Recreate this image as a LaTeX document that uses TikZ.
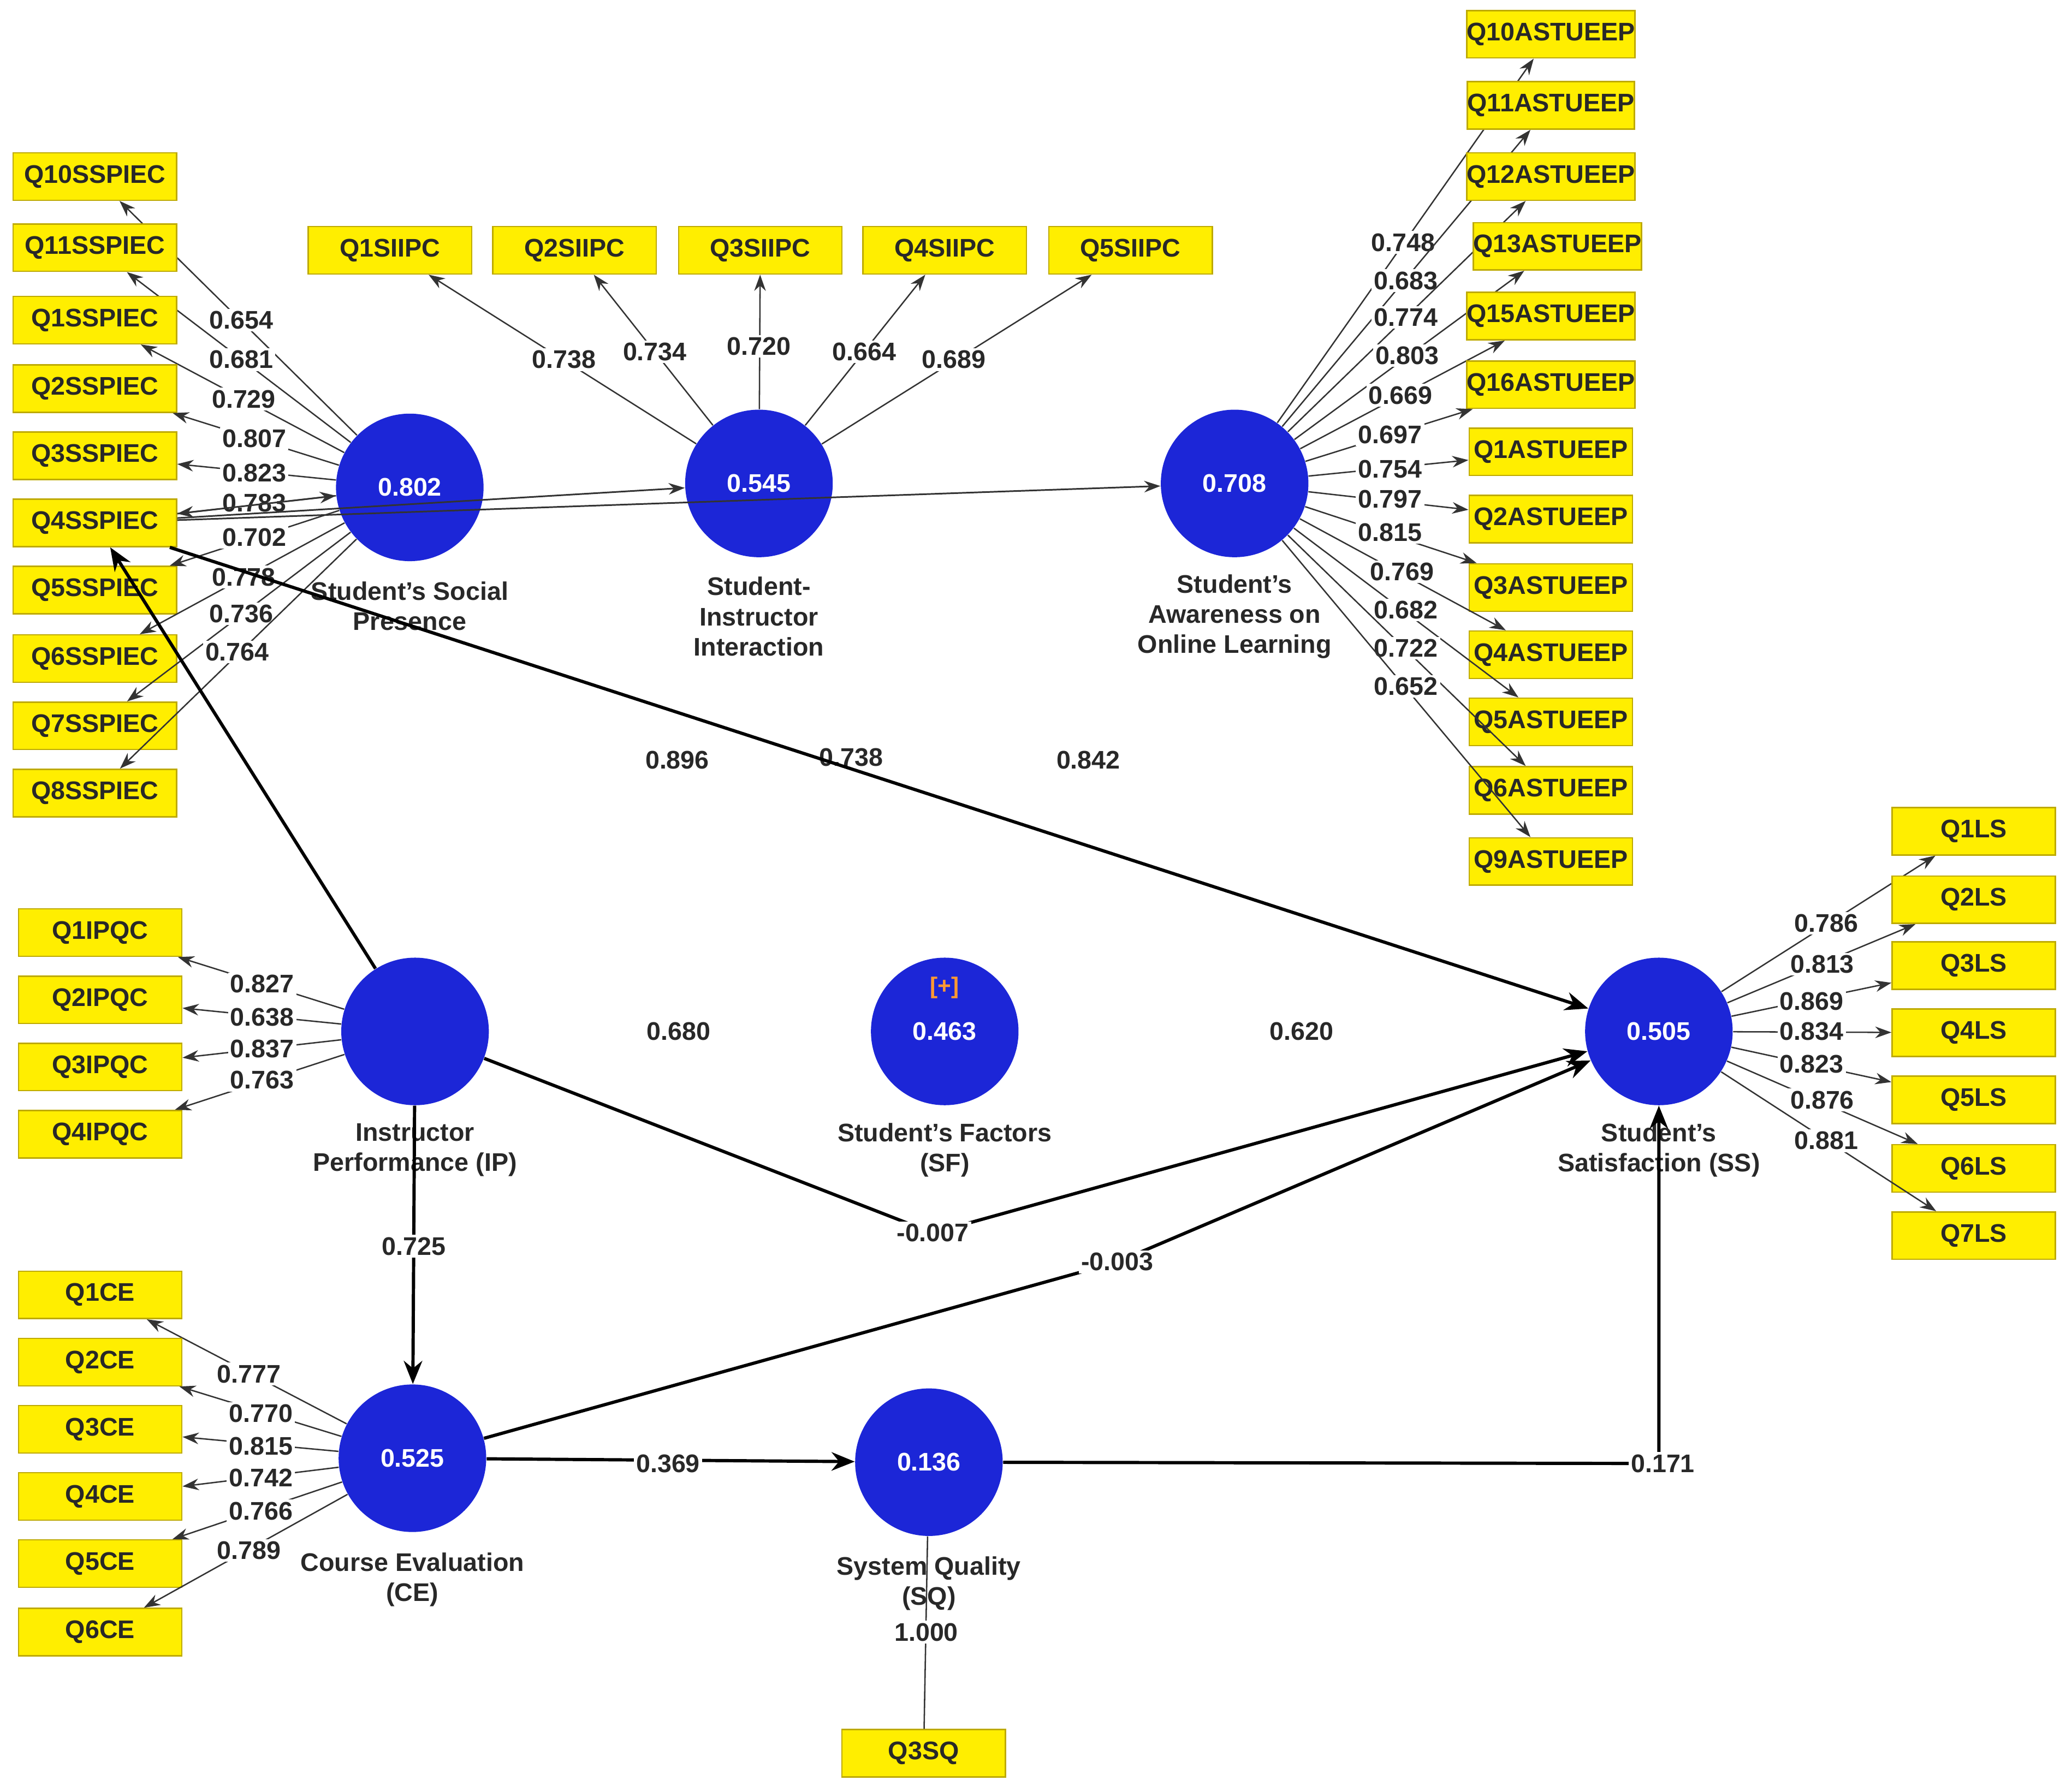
\documentclass[tikz,border=0pt]{standalone}
\usepackage{fontspec}
\setmainfont{Liberation Sans}
\usetikzlibrary{arrows.meta}
\definecolor{lvblue}{RGB}{28,38,215}
\definecolor{boxy}{RGB}{255,238,0}
\definecolor{boxb}{RGB}{190,170,0}
\definecolor{txt}{RGB}{40,40,40}
\begin{document}
\begin{tikzpicture}[x=0.02cm,y=-0.02cm,
  lv/.style={circle,fill=lvblue,minimum size=112*0.02cm,inner sep=0pt,text=white,font=\bfseries\fontsize{11}{13}\selectfont},
  ind/.style={rectangle,fill=boxy,draw=boxb,line width=0.6pt,minimum width=124*0.02cm,minimum height=36*0.02cm,inner sep=0pt,font=\bfseries\fontsize{11}{13}\selectfont,text=txt},
  lvcap/.style={align=center,font=\bfseries\fontsize{11}{13}\selectfont,text=txt},
  lab/.style={fill=white,inner sep=1pt,font=\bfseries\fontsize{11}{13}\selectfont,text=txt},
  ld/.style={draw=black!80,line width=0.6pt,-{Stealth[length=7pt,width=5pt]}},
  sp/.style={draw=black,line width=1.4pt,-{Stealth[length=10pt,width=8pt]}}]
\useasboundingbox (0,0) rectangle (1568,1360);
\fill[white] (0,0) rectangle (1568,1360);
% latent variables
\node[lv] (ssp) at (311,370) {0.802};
\node[lv] (sii) at (576,367) {0.545};
\node[lv] (saol) at (937,367) {0.708};
\node[lv] (ip) at (315,783) {};
\node[lv] (sf) at (717,783) {0.463};
\node[text=orange!80!white,font=\bfseries\fontsize{10}{12}\selectfont] (plus) at (717,750) {[+]};
\node[lv] (ss) at (1259,783) {0.505};
\node[lv] (ce) at (313,1107) {0.525};
\node[lv] (sq) at (705,1110) {0.136};
% captions
\node[lvcap] (c1) at (311,460) {Student's Social\\Presence};
\node[lvcap] (c2) at (576,468) {Student-\\Instructor\\Interaction};
\node[lvcap] (c3) at (937,468) {Student's\\Awareness on\\Online Learning};
\node[lvcap] (c4) at (315,873) {Instructor\\Performance (IP)};
\node[lvcap] (c5) at (717,873) {Student's Factors\\(SF)};
\node[lvcap] (c6) at (1259,873) {Student's\\Satisfaction (SS)};
\node[lvcap] (c7) at (313,1199) {Course Evaluation\\(CE)};
\node[lvcap] (c8) at (705,1202) {System Quality\\(SQ)};
% SSP indicators
\foreach \n/\t/\y/\l/\lx/\ly in {a/Q10SSPIEC/134/0.654/183/243, b/Q11SSPIEC/188/0.681/183/273, c/Q1SSPIEC/243/0.729/185/303, d/Q2SSPIEC/295/0.807/193/333, e/Q3SSPIEC/346/0.823/193/359, f/Q4SSPIEC/397/0.783/193/382, g/Q5SSPIEC/448/0.702/193/408, h/Q6SSPIEC/500/0.778/185/438, i/Q7SSPIEC/551/0.736/183/466, j/Q8SSPIEC/602/0.764/180/495}{
  \node[ind] (s\n) at (72,\y) {\t};
  \draw[ld] (ssp) -- (s\n);
  \node[lab] (sl\n) at (\lx,\ly) {\l};
}
% SII indicators
\foreach \n/\t/\x/\l/\lx/\ly in {a/Q1SIIPC/296/0.738/428/273, b/Q2SIIPC/436/0.734/497/267, c/Q3SIIPC/577/0.720/576/263, d/Q4SIIPC/717/0.664/656/267, e/Q5SIIPC/858/0.689/724/273}{
  \node[ind] (i\n) at (\x,190) {\t};
  \draw[ld] (sii) -- (i\n);
  \node[lab] (il\n) at (\lx,\ly) {\l};
}
% SAOL indicators
\foreach \n/\t/\x/\y/\l/\lx/\ly in {a/Q10ASTUEEP/1177/26/0.748/1065/184, b/Q11ASTUEEP/1177/80/0.683/1067/213, c/Q12ASTUEEP/1177/134/0.774/1067/241, d/Q13ASTUEEP/1182/187/0.803/1068/270, e/Q15ASTUEEP/1177/240/0.669/1063/300, f/Q16ASTUEEP/1177/292/0.697/1055/330, g/Q1ASTUEEP/1177/343/0.754/1055/356, h/Q2ASTUEEP/1177/394/0.797/1055/379, i/Q3ASTUEEP/1177/446/0.815/1055/404, j/Q4ASTUEEP/1177/497/0.769/1064/434, k/Q5ASTUEEP/1177/548/0.682/1067/463, l/Q6ASTUEEP/1177/600/0.722/1067/492, m/Q9ASTUEEP/1177/654/0.652/1067/521}{
  \node[ind] (a\n) at (\x,\y) {\t};
  \draw[ld] (saol) -- (a\n);
  \node[lab] (al\n) at (\lx,\ly) {\l};
}
% IP indicators
\foreach \n/\t/\y/\l/\ly in {a/Q1IPQC/708/0.827/747, b/Q2IPQC/759/0.638/772, c/Q3IPQC/810/0.837/796, d/Q4IPQC/861/0.763/820}{
  \node[ind] (p\n) at (76,\y) {\t};
  \draw[ld] (ip) -- (p\n);
  \node[lab] (pl\n) at (199,\ly) {\l};
}
% CE indicators
\foreach \n/\t/\y/\l/\lx/\ly in {a/Q1CE/983/0.777/189/1043, b/Q2CE/1034/0.770/198/1073, c/Q3CE/1085/0.815/198/1098, d/Q4CE/1136/0.742/198/1122, e/Q5CE/1187/0.766/198/1147, f/Q6CE/1239/0.789/189/1177}{
  \node[ind] (e\n) at (76,\y) {\t};
  \draw[ld] (ce) -- (e\n);
  \node[lab] (el\n) at (\lx,\ly) {\l};
}
% SS indicators
\foreach \n/\t/\y/\l/\lx/\ly in {a/Q1LS/631/0.786/1386/701, b/Q2LS/683/0.813/1383/732, c/Q3LS/733/0.869/1375/760, d/Q4LS/784/0.834/1375/783, e/Q5LS/835/0.823/1375/808, f/Q6LS/887/0.876/1383/835, g/Q7LS/938/0.881/1386/866}{
  \node[ind] (t\n) at (1498,\y) {\t};
  \draw[ld] (ss) -- (t\n);
  \node[lab] (tl\n) at (\lx,\ly) {\l};
}
% SQ indicator
\node[ind] (q3sq) at (701,1331) {Q3SQ};
\draw[draw=black!80,line width=0.6pt] (sq) -- (q3sq);
\node[lab] (lq) at (703,1239) {1.000};
% structural paths
\draw[ld,line width=0.7pt] (sf) -- (ssp);
\draw[ld,line width=0.7pt] (sf) -- (sii);
\draw[ld,line width=0.7pt] (sf) -- (saol);
\node[lab] (l896) at (514,577) {0.896};
\node[lab] (l738) at (646,575) {0.738};
\node[lab] (l842) at (826,577) {0.842};
\draw[sp] (ip) -- (sf);
\node[lab] (l680) at (515,783) {0.680};
\draw[sp] (sf) -- (ss);
\node[lab] (l620) at (988,783) {0.620};
\coordinate (k1) at (708,936);
\draw[sp] (ip) -- (k1) -- (ss);
\node[lab] (l007) at (k1) {-0.007};
\coordinate (k2) at (848,958);
\draw[sp] (ce) -- (k2) -- (ss);
\node[lab] (l003) at (k2) {-0.003};
\draw[sp] (ip) -- (ce);
\node[lab] (l725) at (314,946) {0.725};
\draw[sp] (ce) -- (sq);
\node[lab] (l369) at (507,1111) {0.369};
\coordinate (k3) at (1259,1111);
\draw[sp] (sq) -- (k3) -- (ss);
\node[lab] (l171) at (1262,1111) {0.171};
\end{tikzpicture}
\end{document}
